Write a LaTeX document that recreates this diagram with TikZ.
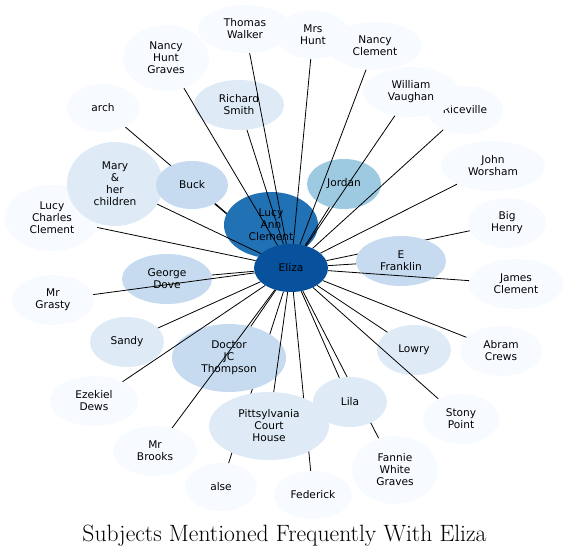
\documentclass[tikz,border=0pt]{standalone}
\usepackage{fontspec}
\newfontfamily\djv{DejaVu Sans}
\usetikzlibrary{shapes.geometric}
\pgfdeclarelayer{back}
\pgfdeclarelayer{front}
\pgfsetlayers{back,main,front}
\definecolor{bA}{HTML}{F7FBFF}
\definecolor{bB}{HTML}{DEEBF7}
\definecolor{bC}{HTML}{C6DBEF}
\definecolor{bD}{HTML}{9ECAE1}
\definecolor{bE}{HTML}{2171B5}
\definecolor{bF}{HTML}{08519C}
\tikzset{
  nd/.style={ellipse, draw=none, inner sep=0pt, align=center,
    font=\djv\fontsize{10.6}{12}\selectfont, text=black},
  ed/.style={line width=0.8pt, black},
  titlestyle/.style={font=\fontsize{23.6}{26}\selectfont, inner sep=0pt}
}
\newcommand{\nd}[7]{\node[nd, fill=#1, minimum width=#2pt, minimum height=#3pt] (#4) at (#5) {#6#7};}
\begin{document}
\begin{tikzpicture}[x=1pt,y=-1pt]
\useasboundingbox (0,0) rectangle (569,556);
% light outer nodes
\nd{bA}{94}{48}{tw}{245,29}{Thomas\\Walker}{}
\nd{bA}{74}{48}{mh}{313,35}{Mrs\\Hunt}{}
\nd{bA}{94}{48}{nc}{375,46}{Nancy\\Clement}{}
\nd{bA}{76}{48}{rv}{465,110}{Riceville}{}
\nd{bA}{96}{50}{wv}{411,92}{William\\Vaughan}{}
\nd{bA}{86}{66}{nhg}{166,58}{Nancy\\Hunt\\Graves}{}
\nd{bB}{90}{50}{rs}{239,105}{Richard\\Smith}{}
\nd{bA}{72}{48}{ar}{103,108}{arch}{}
\nd{bA}{94}{66}{lcc}{52,218}{Lucy\\Charles\\Clement}{}
\nd{bB}{96}{84}{mc}{115,184}{Mary\\\&\\her\\children}{}
\nd{bC}{72}{48}{bu}{192,185}{Buck}{}
\nd{bA}{104}{50}{jw}{493,166}{John\\Worsham}{}
\nd{bA}{78}{50}{bh}{507,223}{Big\\Henry}{}
\nd{bA}{94}{50}{jc}{516,284}{James\\Clement}{}
\nd{bA}{82}{50}{ac}{501,351}{Abram\\Crews}{}
\nd{bA}{76}{50}{sp}{461,419}{Stony\\Point}{}
\nd{bA}{86}{68}{fwg}{395,470}{Fannie\\White\\Graves}{}
\nd{bA}{78}{48}{fe}{313,495}{Federick}{}
\nd{bA}{72}{48}{al}{221,487}{alse}{}
\nd{bA}{84}{50}{mb}{155,451}{Mr\\Brooks}{}
\nd{bA}{88}{50}{ed}{94,401}{Ezekiel\\Dews}{}
\nd{bA}{82}{50}{mg}{53,300}{Mr\\Grasty}{}
\nd{bB}{74}{50}{sa}{127,342}{Sandy}{}
\nd{bC}{90}{50}{gd}{167,279}{George\\Dove}{}
\nd{bC}{114}{68}{dr}{229,358}{Doctor\\JC\\Thompson}{}
\nd{bB}{120}{68}{pc}{269,426}{Pittsylvania\\Court\\House}{}
\nd{bB}{74}{50}{li}{350,402}{Lila}{}
\nd{bB}{74}{50}{lo}{414,350}{Lowry}{}
\nd{bC}{90}{50}{ef}{401,261}{E\\Franklin}{}
\nd{bD}{74}{50}{jo}{344,184}{Jordan}{}
\nd{bE}{94}{66}{lac}{271,225}{Lucy\\Ann\\Clement}{}
\nd{bF}{74}{48}{el}{291,268}{Eliza}{}
% edges hidden behind nodes
\begin{pgfonlayer}{back}
\foreach \n in {ar,bu,bh,fwg,fe,al} \draw[ed] (el) -- (\n);
\end{pgfonlayer}
% edges drawn over nodes
\begin{pgfonlayer}{front}
\foreach \n in {tw,mh,nc,wv,rv,nhg,rs,jo,jw,ef,jc,ac,lo,sp,li,pc,dr,mb,ed,sa,mg,gd,lcc,mc} \draw[ed] (el) -- (\n);
\end{pgfonlayer}
\node[titlestyle] (title) at (284.5,536) {Subjects Mentioned Frequently With Eliza};
\end{tikzpicture}
\end{document}
